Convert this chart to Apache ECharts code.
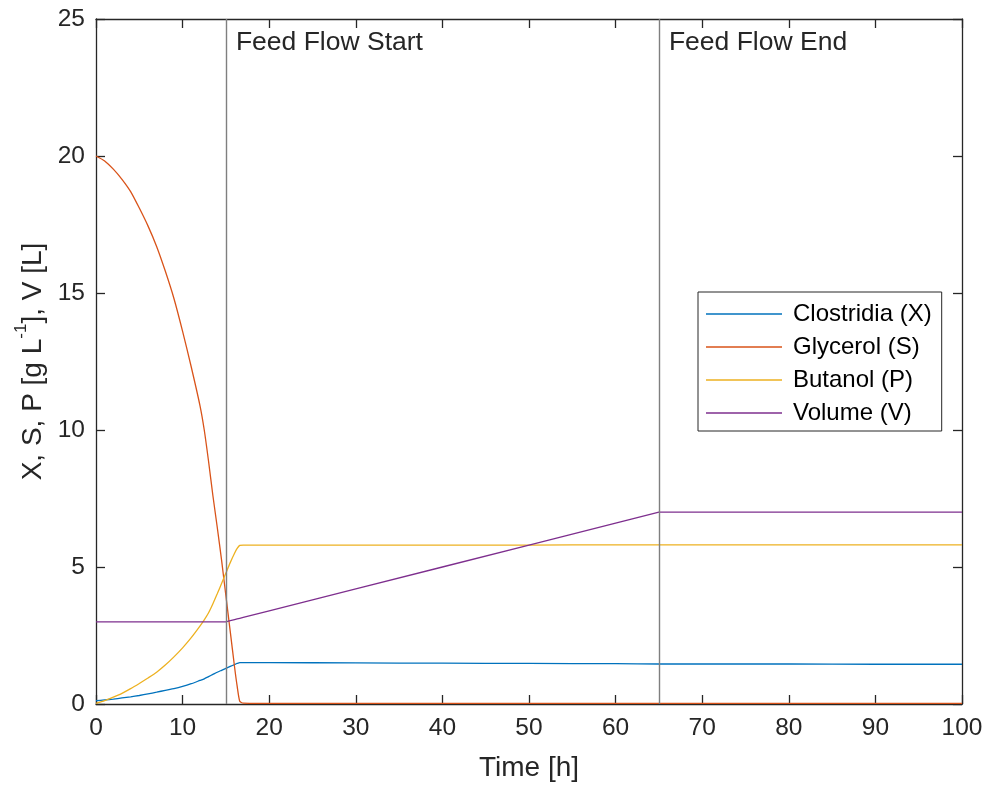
<!DOCTYPE html>
<html>
<head>
<meta charset="utf-8">
<script src="https://cdn.jsdelivr.net/npm/echarts@6/dist/echarts.min.js"></script>
<style>
  html, body { margin: 0; padding: 0; background: #fff; }
  #chart { width: 987px; height: 787px; }
</style>
</head>
<body>
<div id="chart"></div>
<script>
// Fed-batch fermentation simulation: biomass, substrate, product and volume over time
const time = [0, 1, 2, 3, 4, 5, 6, 7, 8, 9, 10, 11, 12, 12.5, 13, 13.5, 14, 14.5, 15, 15.5, 16, 16.3, 16.6, 17, 20, 30, 40, 50, 60, 65, 70, 80, 90, 100];

const clostridia = [0.12, 0.15, 0.18, 0.22, 0.26, 0.31, 0.37, 0.43, 0.50, 0.56, 0.64, 0.74, 0.86, 0.92, 1.00, 1.08, 1.16, 1.23, 1.30, 1.37, 1.44, 1.48, 1.51, 1.51, 1.51, 1.50, 1.49, 1.48, 1.47, 1.46, 1.46, 1.46, 1.45, 1.45];
const glycerol = [20.0, 19.82, 19.52, 19.15, 18.7, 18.1, 17.45, 16.7, 15.8, 14.8, 13.6, 12.3, 10.9, 10.0, 8.85, 7.6, 6.45, 5.25, 3.95, 2.65, 1.35, 0.65, 0.1, 0.03, 0.02, 0.02, 0.02, 0.02, 0.02, 0.02, 0.02, 0.02, 0.02, 0.02];
const butanol = [0.02, 0.12, 0.25, 0.39, 0.56, 0.75, 0.95, 1.16, 1.42, 1.72, 2.05, 2.42, 2.84, 3.07, 3.33, 3.66, 4.02, 4.4, 4.78, 5.16, 5.5, 5.68, 5.79, 5.8, 5.8, 5.8, 5.8, 5.8, 5.81, 5.81, 5.81, 5.81, 5.81, 5.81];
const volume = [3, 3, 3, 3, 3, 3, 3, 3, 3, 3, 3, 3, 3, 3, 3, 3, 3, 3, 3, 3.04, 3.08, 3.104, 3.128, 3.16, 3.4, 4.2, 5.0, 5.8, 6.6, 7.0, 7.0, 7.0, 7.0, 7.0];

const seriesNames = ['Clostridia (X)', 'Glycerol (S)', 'Butanol (P)', 'Volume (V)'];
const seriesColors = ['#0072BD', '#D95319', '#EDB120', '#7E2F8E'];
// piecewise-linear volume keeps its sharp feed corners
const seriesSmooth = [0.2, 0.2, 0.2, false];

// Feed phase markers
const feedTimes = [15, 65];
const feedLabels = ['Feed Flow Start', 'Feed Flow End'];

const xTicks = { min: 0, max: 100, interval: 10 };
const yTicks = { min: 0, max: 25, interval: 5 };

const font = '"Liberation Sans", Arial, Helvetica, sans-serif';
const ink = '#262626';

function pairs(values) {
  return time.map((t, i) => [t, values[i]]);
}

const valueSets = [clostridia, glycerol, butanol, volume];

const lineSeries = valueSets.map((vals, i) => ({
  name: seriesNames[i],
  type: 'line',
  data: pairs(vals),
  symbol: 'none',
  smooth: seriesSmooth[i],
  lineStyle: { color: seriesColors[i], width: 1.3 },
  itemStyle: { color: seriesColors[i] },
  z: 3
}));

const markerSeries = {
  name: 'feed',
  type: 'scatter',
  data: feedTimes.map((t, i) => [t, yTicks.max, feedLabels[i]]),
  symbolSize: 0,
  silent: true,
  z: 4,
  itemStyle: { opacity: 1 },
  label: {
    show: true,
    position: 'right',
    distance: 5,
    offset: [5, 24],
    formatter: p => p.value[2],
    color: ink,
    fontFamily: font,
    fontSize: 26.5
  },
  markLine: {
    silent: true,
    symbol: 'none',
    label: { show: false },
    lineStyle: { color: '#7f7f7f', width: 1.4, type: 'solid' },
    data: feedTimes.map(t => ({ xAxis: t }))
  }
};

const axisCommon = {
  axisLine: { show: true, onZero: false, lineStyle: { color: ink, width: 1.3 } },
  axisTick: { show: true, inside: true, length: 9, lineStyle: { color: ink, width: 1.3 } },
  splitLine: { show: false }
};

const chart = echarts.init(document.getElementById('chart'), null, { renderer: 'canvas' });

chart.setOption({
  backgroundColor: '#ffffff',
  animation: false,
  grid: { left: 96, right: 25, top: 19, bottom: 83, containLabel: false },
  xAxis: [
    Object.assign({
      type: 'value',
      position: 'bottom',
      min: xTicks.min, max: xTicks.max, interval: xTicks.interval,
      name: 'Time [h]',
      nameLocation: 'middle',
      nameGap: 50,
      nameTextStyle: { color: ink, fontFamily: font, fontSize: 28 },
      axisLabel: { color: ink, fontFamily: font, fontSize: 24.5, margin: 12 }
    }, axisCommon),
    Object.assign({
      type: 'value',
      position: 'top',
      min: xTicks.min, max: xTicks.max, interval: xTicks.interval,
      axisLabel: { show: false }
    }, axisCommon)
  ],
  yAxis: [
    Object.assign({
      type: 'value',
      position: 'left',
      min: yTicks.min, max: yTicks.max, interval: yTicks.interval,
      name: '{a|X, S, P [g L}{s|-1}{a|], V [L]}',
      nameLocation: 'middle',
      nameGap: 47,
      nameTextStyle: {
        color: ink, fontFamily: font, fontSize: 28,
        rich: {
          a: { color: ink, fontFamily: font, fontSize: 28, lineHeight: 34, verticalAlign: 'bottom' },
          s: { color: ink, fontFamily: font, fontSize: 17, lineHeight: 34, verticalAlign: 'top' }
        }
      },
      axisLabel: { color: ink, fontFamily: font, fontSize: 24.5, margin: 11 }
    }, axisCommon),
    Object.assign({
      type: 'value',
      position: 'right',
      min: yTicks.min, max: yTicks.max, interval: yTicks.interval,
      axisLabel: { show: false }
    }, axisCommon)
  ],
  legend: {
    data: seriesNames,
    orient: 'vertical',
    left: 698,
    top: 292,
    backgroundColor: '#ffffff',
    borderColor: ink,
    borderWidth: 1,
    borderRadius: 0,
    padding: [10, 10, 6, 8],
    icon: 'rect',
    itemWidth: 76,
    itemHeight: 1.3,
    itemGap: 9,
    selectedMode: false,
    textStyle: { color: '#000', fontFamily: font, fontSize: 24, lineHeight: 24, padding: [0, 0, 0, 6] }
  },
  series: [markerSeries].concat(lineSeries)
});
</script>
</body>
</html>
